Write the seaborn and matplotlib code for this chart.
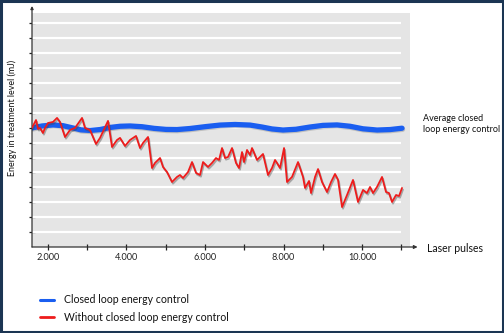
import matplotlib
matplotlib.use("Agg")
import matplotlib.pyplot as plt
import matplotlib.patheffects as pe
from matplotlib.patches import Rectangle
import seaborn as sns
import pandas as pd

sns.set_theme(style="white")
plt.rcParams['font.family'] = ['Lato', 'DejaVu Sans']

# ---- data ----
closed_x = [1600, 1855, 2135, 2389, 2618, 2847, 3076, 3331, 3585, 3840, 4094, 4400,
            4705, 5010, 5290, 5621, 6028, 6384, 6766, 7148, 7453, 7707, 7987, 8318,
            8674, 9005, 9362, 9692, 10023, 10379, 10710, 11015]
closed_y = [7.99, 8.12, 8.19, 8.14, 8.00, 7.86, 7.82, 7.88, 8.02, 8.10, 8.12, 8.07,
            7.96, 7.89, 7.88, 7.95, 8.08, 8.18, 8.22, 8.18, 8.05, 7.92, 7.85, 7.90,
            8.05, 8.16, 8.19, 8.10, 7.93, 7.85, 7.88, 7.97]

open_x = [1600, 1702, 1753, 1804, 1880, 1931, 2008, 2135, 2237, 2313, 2440, 2567,
          2695, 2873, 2949, 3076, 3229, 3331, 3534, 3636, 3763, 3840, 3967, 4094,
          4247, 4349, 4425, 4552, 4654, 4730, 4858, 4934, 5036, 5163, 5290, 5366,
          5443, 5570, 5672, 5774, 5875, 5952, 6079, 6181, 6282, 6359, 6435, 6511,
          6588, 6690, 6791, 6868, 6944, 6995, 7071, 7148, 7198, 7326, 7478, 7605,
          7707, 7784, 7834, 7911, 8013, 8089, 8216, 8369, 8496, 8547, 8649, 8700,
          8802, 8878, 8980, 9107, 9209, 9310, 9387, 9489, 9616, 9768, 9895, 10023,
          10124, 10201, 10277, 10379, 10506, 10608, 10684, 10761, 10863, 10939, 11015]
open_y = [7.99, 8.52, 7.92, 7.99, 7.65, 7.99, 8.32, 8.39, 8.66, 8.39, 7.38, 7.85,
          7.99, 8.66, 7.99, 7.85, 6.91, 7.32, 8.46, 6.71, 7.18, 7.32, 6.78, 7.18,
          7.45, 6.64, 6.98, 7.38, 5.30, 5.64, 5.97, 5.37, 5.03, 4.36, 4.70, 4.83,
          4.63, 5.03, 5.70, 4.97, 4.83, 5.70, 5.37, 5.64, 5.97, 5.84, 6.64, 5.97,
          6.04, 6.64, 5.64, 5.30, 6.37, 5.70, 6.51, 6.17, 6.64, 5.84, 6.24, 4.83,
          5.30, 5.84, 5.64, 5.30, 6.64, 4.36, 4.70, 5.70, 4.70, 3.96, 4.43, 3.62,
          4.70, 5.23, 4.36, 3.69, 4.36, 4.90, 4.50, 2.68, 3.49, 4.50, 3.02, 3.83,
          3.62, 4.03, 3.62, 4.03, 4.70, 3.69, 3.62, 3.02, 3.49, 3.42, 3.96]

x_ticks = [2000, 3000, 4000, 5000, 6000, 7000, 8000, 9000, 10000, 11000]
x_tick_labels = ["2.000", "", "4.000", "", "6.000", "", "8.000", "", "10.000", ""]
y_ticks = list(range(1, 16))

series_names = ["Closed loop energy control", "Without closed loop energy control"]
label_x = "Laser pulses"
label_y = "Energy in treatment level (mJ)"
annot_text = "Average closed\nloop energy control"

BLUE = "#1a5ef0"
RED = "#ee1c1c"
GRAY_BG = "#e5e5e5"
NAVY = "#1b3553"

df_closed = pd.DataFrame({"pulses": closed_x, "energy": closed_y})
df_open = pd.DataFrame({"pulses": open_x, "energy": open_y})

fig = plt.figure(figsize=(5.04, 3.33), dpi=100)
ax = fig.add_axes([32 / 504, 86 / 333, 378 / 504, 234 / 333])
ax.set_facecolor(GRAY_BG)
ax.set_xlim(1600, 11218)
ax.set_ylim(0, 15.7)

# white grid lines (ending at the last tick)
ax.hlines(y_ticks, 1600, 11000, color="white", lw=1.6, zorder=1)

shadow_blue = [pe.SimpleLineShadow(offset=(0.4, -0.8), shadow_color="#666666", alpha=0.3),
               pe.Normal()]
shadow_red = [pe.SimpleLineShadow(offset=(0.7, -1.2), shadow_color="#444444", alpha=0.4),
              pe.Normal()]

sns.lineplot(data=df_closed, x="pulses", y="energy", ax=ax, color=BLUE, lw=3.8,
             zorder=3, path_effects=shadow_blue, legend=False)
sns.lineplot(data=df_open, x="pulses", y="energy", ax=ax, color=RED, lw=1.3,
             zorder=4, path_effects=shadow_red, legend=False)

for s in ["top", "right", "left", "bottom"]:
    ax.spines[s].set_visible(False)

# axes with arrows
ax.annotate("", xy=(1.02, 0), xytext=(0, 0), xycoords="axes fraction",
            arrowprops=dict(arrowstyle="-|>", color="#333333", lw=0.9,
                            mutation_scale=5, shrinkA=0, shrinkB=0), annotation_clip=False)
ax.annotate("", xy=(0, 1.03), xytext=(0, 0), xycoords="axes fraction",
            arrowprops=dict(arrowstyle="-|>", color="#333333", lw=0.9,
                            mutation_scale=4, shrinkA=0, shrinkB=0), annotation_clip=False)

ax.set_xticks(x_ticks)
ax.set_xticklabels(x_tick_labels)
ax.set_yticks(y_ticks)
ax.set_yticklabels([])
ax.tick_params(axis="both", direction="inout", length=5, width=0.9, color="#222222",
               labelsize=6.6, labelcolor="#222222", pad=2, left=True, bottom=True)
ax.set_xlabel("")
ax.set_ylabel("")

fig.text(427 / 504, 1 - 248 / 333, label_x, fontsize=7.6, color="#111111",
         ha="left", va="center")
fig.text(12 / 504, 1 - 118 / 333, label_y, fontsize=6.4, color="#111111",
         rotation=90, ha="center", va="center")
fig.text(423 / 504, 1 - 124 / 333, annot_text, fontsize=6.5, color="#111111",
         ha="left", va="center", linespacing=1.3)

# legend
leg_handles = [plt.Line2D([], [], color=BLUE, lw=2.2), plt.Line2D([], [], color=RED, lw=2.0)]
fig.legend(leg_handles, series_names, loc="upper left",
           bbox_to_anchor=(36 / 504, 1 - 290 / 333), frameon=False, fontsize=7.6,
           handlelength=1.35, handletextpad=0.95, labelspacing=0.6, borderaxespad=0,
           labelcolor="#111111")

# figure frame
fig.patches.append(Rectangle((0.002, 0.003), 0.996, 0.994, transform=fig.transFigure,
                             fill=False, edgecolor=NAVY, lw=2.2))

fig.savefig("out.png", dpi=100, facecolor="white")
